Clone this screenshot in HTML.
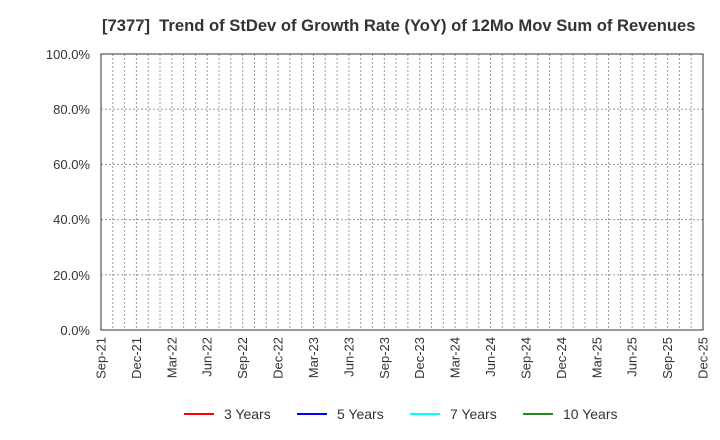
<!DOCTYPE html>
<html><head><style>body{margin:0;background:#fff}svg{display:block}</style></head><body>
<svg width="720" height="440" xmlns="http://www.w3.org/2000/svg" font-family="Liberation Sans, sans-serif">
<text x="102" y="31" font-size="16.6" font-weight="bold" fill="#333" style="white-space:pre">[7377]  Trend of StDev of Growth Rate (YoY) of 12Mo Mov Sum of Revenues</text>
<path fill="none" stroke="#999" stroke-dasharray="2,2" d="M112.8 54V330M124.61 54V330M136.41 54V330M148.22 54V330M160.02 54V330M171.82 54V330M183.63 54V330M195.43 54V330M207.24 54V330M219.04 54V330M230.84 54V330M242.65 54V330M254.45 54V330M266.25 54V330M278.06 54V330M289.86 54V330M301.67 54V330M313.47 54V330M325.27 54V330M337.08 54V330M348.88 54V330M360.69 54V330M372.49 54V330M384.29 54V330M396.1 54V330M407.9 54V330M419.71 54V330M431.51 54V330M443.31 54V330M455.12 54V330M466.92 54V330M478.73 54V330M490.53 54V330M502.33 54V330M514.14 54V330M525.94 54V330M537.75 54V330M549.55 54V330M561.35 54V330M573.16 54V330M584.96 54V330M596.76 54V330M608.57 54V330M620.37 54V330M632.18 54V330M643.98 54V330M655.78 54V330M667.59 54V330M679.39 54V330M691.2 54V330M101 109.2H703M101 164.4H703M101 219.6H703M101 274.8H703"/>
<rect x="101" y="54" width="602" height="276" fill="none" stroke="#333"/>
<g font-size="13" fill="#333" text-anchor="end">
<text x="90" y="335">0.0%</text><text x="90" y="280">20.0%</text><text x="90" y="224">40.0%</text><text x="90" y="169">60.0%</text><text x="90" y="114">80.0%</text><text x="90" y="59">100.0%</text>
<text transform="translate(105.5,337) rotate(-90)">Sep-21</text>
<text transform="translate(140.9,337) rotate(-90)">Dec-21</text>
<text transform="translate(176.3,337) rotate(-90)">Mar-22</text>
<text transform="translate(211.7,337) rotate(-90)">Jun-22</text>
<text transform="translate(247.1,337) rotate(-90)">Sep-22</text>
<text transform="translate(282.6,337) rotate(-90)">Dec-22</text>
<text transform="translate(318,337) rotate(-90)">Mar-23</text>
<text transform="translate(353.4,337) rotate(-90)">Jun-23</text>
<text transform="translate(388.8,337) rotate(-90)">Sep-23</text>
<text transform="translate(424.2,337) rotate(-90)">Dec-23</text>
<text transform="translate(459.6,337) rotate(-90)">Mar-24</text>
<text transform="translate(495,337) rotate(-90)">Jun-24</text>
<text transform="translate(530.4,337) rotate(-90)">Sep-24</text>
<text transform="translate(565.9,337) rotate(-90)">Dec-24</text>
<text transform="translate(601.3,337) rotate(-90)">Mar-25</text>
<text transform="translate(636.7,337) rotate(-90)">Jun-25</text>
<text transform="translate(672.1,337) rotate(-90)">Sep-25</text>
<text transform="translate(707.5,337) rotate(-90)">Dec-25</text>
</g>
<g font-size="14" fill="#333" stroke-width="2">
<line x1="184" y1="414" x2="214" y2="414" stroke="#ff0000"/><text x="224" y="419">3 Years</text>
<line x1="297" y1="414" x2="327" y2="414" stroke="#0000ff"/><text x="337" y="419">5 Years</text>
<line x1="410" y1="414" x2="440" y2="414" stroke="#00ffff"/><text x="450" y="419">7 Years</text>
<line x1="523" y1="414" x2="553" y2="414" stroke="#228b22"/><text x="563" y="419">10 Years</text>
</g>
</svg></body></html>
